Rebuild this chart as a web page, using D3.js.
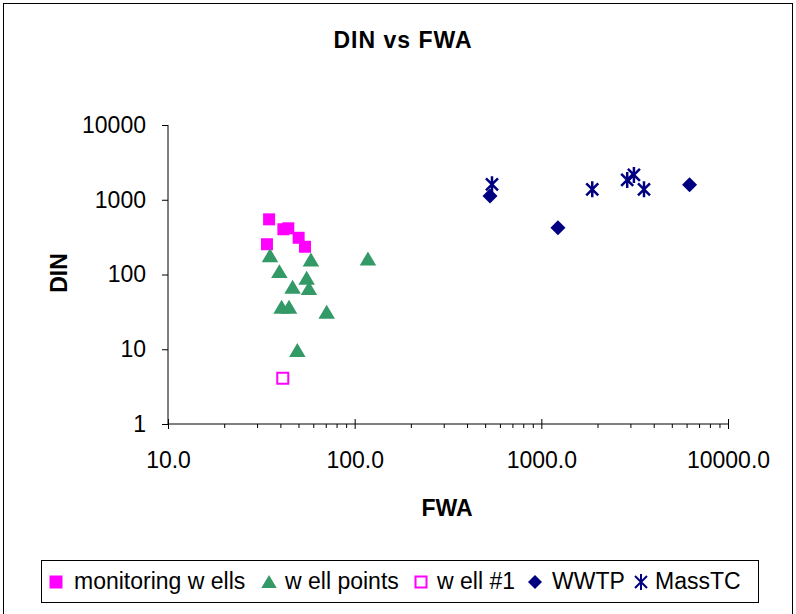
<!DOCTYPE html>
<html lang="en">
<head>
<meta charset="UTF-8"/>
<title>DIN vs FWA</title>
<script src="https://d3js.org/d3.v7.min.js"></script>
<style>
  body { margin: 0; background: #fff; }
  text { font-family: "Liberation Sans", Arial, sans-serif; }
</style>
</head>
<body>
<script>
var w = 796;
var h = 614;

// data: [FWA, DIN]
var monitoringWells = [[34.8, 547], [41.5, 403], [44.1, 415], [50.1, 310], [54.2, 235], [33.9, 254]];
var wellPoints = [[35.2, 178], [58.3, 156], [39.5, 109], [55.3, 89], [46.5, 67.5], [56.9, 64.6],
                  [40.6, 36.4], [44.5, 36.4], [70.8, 31.2], [49.3, 9.6], [117.8, 161]];
var well1 = [[41.2, 4.1]];
var wwtp = [[531, 1122], [1227, 423], [6226, 1592]];
var massTC = [[544, 1610], [1874, 1380], [2884, 1838], [3133, 2144], [3548, 1380]];

var xTicks = [10, 100, 1000, 10000];
var yTicks = [1, 10, 100, 1000, 10000];
var legendNames = ["monitoring w ells", "w ell points", "w ell #1", "WWTP", "MassTC"];

var plotLeft = 168, plotRight = 728, plotTop = 125, plotBottom = 424;

var xScale = d3.scaleLog().domain([10, 10000]).range([plotLeft, plotRight]);
var yScale = d3.scaleLog().domain([1, 10000]).range([plotBottom, plotTop]);

var svg = d3.select("body").append("svg")
    .attr("width", w)
    .attr("height", h);

// outer frame
svg.append("rect")
    .attr("x", 3.5).attr("y", 3.5)
    .attr("width", 789).attr("height", 620)
    .attr("fill", "white")
    .attr("stroke", "#000")
    .attr("stroke-width", 1);

svg.append("text")
    .attr("x", 403).attr("y", 48)
    .attr("text-anchor", "middle")
    .attr("font-size", "23px")
    .attr("font-weight", "bold")
    .attr("letter-spacing", "1px")
    .text("DIN vs FWA");

/* axes */
var yAxis = d3.axisLeft(yScale)
    .tickValues(yTicks)
    .tickFormat(d3.format("d"))
    .tickSize(6)
    .tickPadding(16);

var gy = svg.append("g")
    .attr("transform", "translate(" + plotLeft + ",0)")
    .call(yAxis);
gy.select(".domain").attr("d", "M0," + plotTop + "V" + plotBottom);

var minorX = [];
[10, 100, 1000].forEach(function(b) {
    for (var i = 2; i <= 9; i++) minorX.push(b * i);
});

var xAxisMinor = d3.axisBottom(xScale)
    .tickValues(minorX)
    .tickFormat("")
    .tickSize(4);
var gxm = svg.append("g")
    .attr("transform", "translate(0," + plotBottom + ")")
    .call(xAxisMinor);
gxm.select(".domain").remove();

var xAxis = d3.axisBottom(xScale)
    .tickValues(xTicks)
    .tickFormat(d3.format(".1f"))
    .tickSize(5)
    .tickPadding(23);
var gx = svg.append("g")
    .attr("transform", "translate(0," + plotBottom + ")")
    .call(xAxis);
gx.select(".domain").attr("d", "M" + plotLeft + ",0H" + plotRight);
gx.selectAll(".tick line").attr("y1", -5);

svg.selectAll(".tick text")
    .attr("font-size", "23px")
    .attr("font-family", "Liberation Sans, Arial, sans-serif");

svg.append("text")
    .attr("x", 447).attr("y", 516)
    .attr("text-anchor", "middle")
    .attr("font-size", "23px")
    .attr("font-weight", "bold")
    .text("FWA");

svg.append("text")
    .attr("transform", "translate(67,273) rotate(-90)")
    .attr("text-anchor", "middle")
    .attr("font-size", "23px")
    .attr("font-weight", "bold")
    .text("DIN");

/* marker shapes */
function square(s) { return "M" + (-s) + "," + (-s) + "H" + s + "V" + s + "H" + (-s) + "Z"; }
function triangle(s) { return "M0," + (-s) + "L" + (s * 1.1) + "," + (s * 0.85) + "H" + (-s * 1.1) + "Z"; }
function diamond(s) { return "M0," + (-s) + "L" + s + ",0L0," + s + "L" + (-s) + ",0Z"; }
function star(s) {
    var d = s * 0.75;
    return "M" + (-d) + "," + (-d) + "L" + d + "," + d +
           "M" + d + "," + (-d) + "L" + (-d) + "," + d +
           "M0," + (-s) + "V" + s;
}

var series = [
    { data: monitoringWells, path: square(6), fill: "#ff00ff", stroke: "none", sw: 0 },
    { data: wellPoints, path: triangle(7.5), fill: "#339966", stroke: "none", sw: 0 },
    { data: well1, path: square(5.5), fill: "white", stroke: "#ff00ff", sw: 2 },
    { data: wwtp, path: diamond(7.5), fill: "#000080", stroke: "none", sw: 0 },
    { data: massTC, path: star(8), fill: "none", stroke: "#000080", sw: 2.5 }
];

series.forEach(function(s) {
    svg.append("g").selectAll("path")
        .data(s.data)
        .enter()
        .append("path")
        .attr("transform", function(d) {
            return "translate(" + xScale(d[0]) + "," + yScale(d[1]) + ")";
        })
        .attr("d", s.path)
        .attr("fill", s.fill)
        .attr("stroke", s.stroke)
        .attr("stroke-width", s.sw);
});

/* legend */
svg.append("rect")
    .attr("x", 41.5).attr("y", 560.5)
    .attr("width", 717).attr("height", 42)
    .attr("fill", "white")
    .attr("stroke", "#000");

var legendMarkX = [56, 269, 421, 535, 641];
var legendTextX = [74, 285, 437, 552, 655];
var legendPaths = [square(6.5), triangle(7), square(5.5), diamond(7), star(8)];

legendNames.forEach(function(name, i) {
    var s = series[i];
    svg.append("path")
        .attr("transform", "translate(" + legendMarkX[i] + ",582)")
        .attr("d", legendPaths[i])
        .attr("fill", s.fill)
        .attr("stroke", s.stroke)
        .attr("stroke-width", s.sw ? Math.min(s.sw, 2) : 0);
    svg.append("text")
        .attr("x", legendTextX[i])
        .attr("y", 589)
        .attr("font-size", "23px")
        .text(name);
});
</script>
</body>
</html>
